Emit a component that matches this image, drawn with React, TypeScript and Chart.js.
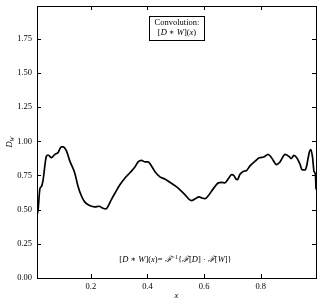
import React, { useEffect, useRef } from "react";
import { Chart, registerables } from "chart.js";

Chart.register(...registerables);

const xValues = [0.010,0.014,0.020,0.026,0.031,0.043,0.049,0.061,0.073,0.084,
  0.096,0.102,0.114,0.126,0.143,0.155,0.167,0.179,0.196,0.214,
  0.229,0.243,0.253,0.261,0.273,0.285,0.302,0.320,0.338,0.355,
  0.367,0.379,0.391,0.402,0.414,0.426,0.444,0.461,0.479,0.497,
  0.514,0.532,0.547,0.556,0.567,0.583,0.591,0.603,0.615,0.632,
  0.650,0.662,0.673,0.685,0.697,0.705,0.712,0.718,0.726,0.738,
  0.750,0.762,0.780,0.795,0.811,0.826,0.838,0.856,0.868,0.886,
  0.901,0.907,0.917,0.927,0.939,0.945,0.956,0.962,0.971,0.977,
  0.983,0.988,0.993,0.995];

const convValues = [0.46,0.50,0.65,0.67,0.71,0.89,0.90,0.88,0.905,0.917,
  0.96,0.96,0.93,0.855,0.77,0.67,0.60,0.555,0.53,0.52,
  0.525,0.51,0.505,0.525,0.575,0.62,0.68,0.73,0.77,0.81,
  0.85,0.86,0.85,0.85,0.82,0.78,0.74,0.725,0.70,0.676,
  0.647,0.61,0.575,0.566,0.578,0.593,0.586,0.58,0.603,0.652,
  0.696,0.70,0.696,0.725,0.757,0.75,0.725,0.72,0.757,0.78,
  0.787,0.82,0.855,0.88,0.885,0.905,0.88,0.83,0.85,0.905,
  0.887,0.873,0.897,0.88,0.83,0.794,0.79,0.82,0.917,0.94,
  0.88,0.78,0.757,0.647];

const xTicks = [0.2, 0.4, 0.6, 0.8];
const yTicks = [0, 0.25, 0.5, 0.75, 1.0, 1.25, 1.5, 1.75];
const xRange = [0.01, 0.995];
const yRange = [0, 1.99];

const FONT = "'Liberation Serif', 'DejaVu Serif', serif";
type Seg = { t: string; i?: boolean; sup?: boolean; sub?: boolean };

function drawSegs(ctx: CanvasRenderingContext2D, segs: Seg[], cx: number, cy: number, size: number) {
  const fontFor = (s: Seg) => `${s.i ? "italic " : ""}${s.sup || s.sub ? size * 0.7 : size}px ${FONT}`;
  let total = 0;
  for (const s of segs) { ctx.font = fontFor(s); total += ctx.measureText(s.t).width; }
  let x = cx - total / 2;
  ctx.textBaseline = "middle";
  ctx.textAlign = "left";
  for (const s of segs) {
    ctx.font = fontFor(s);
    const dy = s.sup ? -size * 0.35 : s.sub ? size * 0.3 : 0;
    ctx.fillText(s.t, x, cy + dy);
    x += ctx.measureText(s.t).width;
  }
  return total;
}

const decor = {
  id: "decor",
  afterDraw(chart: any) {
    const { ctx, chartArea: a, scales } = chart;
    ctx.save();
    ctx.strokeStyle = "#000";
    ctx.fillStyle = "#000";
    ctx.lineWidth = 1;
    ctx.strokeRect(Math.round(a.left) + 0.5, Math.round(a.top) + 0.5, Math.round(a.right - a.left), Math.round(a.bottom - a.top));
    const tl = 4;
    ctx.beginPath();
    for (const v of xTicks) {
      const px = Math.round(scales.x.getPixelForValue(v)) + 0.5;
      ctx.moveTo(px, a.bottom); ctx.lineTo(px, a.bottom - tl);
      ctx.moveTo(px, a.top); ctx.lineTo(px, a.top + tl);
    }
    for (const v of yTicks) {
      const py = Math.round(scales.y.getPixelForValue(v)) + 0.5;
      ctx.moveTo(a.left, py); ctx.lineTo(a.left + tl, py);
      ctx.moveTo(a.right, py); ctx.lineTo(a.right - tl, py);
    }
    ctx.stroke();

    // legend-like box
    const bx = 149.5, by = 16.5, bw = 55, bh = 24;
    ctx.fillStyle = "#fff";
    ctx.fillRect(bx, by, bw, bh);
    ctx.strokeRect(bx, by, bw, bh);
    ctx.fillStyle = "#000";
    const cx = bx + bw / 2;
    drawSegs(ctx, [{ t: "Convolution:" }], cx, 23, 8.5);
    drawSegs(ctx, [{ t: "[" }, { t: "D", i: true }, { t: " ∗ " }, { t: "W", i: true }, { t: "](" }, { t: "x", i: true }, { t: ")" }], cx, 33, 8.5);

    // formula
    drawSegs(ctx, [
      { t: "[" }, { t: "D", i: true }, { t: " ∗ " }, { t: "W", i: true }, { t: "](" }, { t: "x", i: true }, { t: ")= " },
      { t: "ℱ", i: true }, { t: "−1", sup: true }, { t: "{" }, { t: "ℱ", i: true }, { t: "[" }, { t: "D", i: true }, { t: "] · " },
      { t: "ℱ", i: true }, { t: "[" }, { t: "W", i: true }, { t: "]}" },
    ], 175.5, 260, 8.5);

    // x label
    drawSegs(ctx, [{ t: "x", i: true }], (a.left + a.right) / 2, 296, 8.5);

    // y label rotated
    ctx.save();
    ctx.translate(10, (a.top + a.bottom) / 2);
    ctx.rotate(-Math.PI / 2);
    drawSegs(ctx, [{ t: "D", i: true }, { t: "W", i: true, sub: true }], 0, 0, 8.5);
    ctx.restore();
    ctx.restore();
  },
};

export default function App() {
  const ref = useRef<HTMLCanvasElement>(null);
  useEffect(() => {
    if (!ref.current) return;
    const chart = new Chart(ref.current, {
      type: "line",
      data: {
        datasets: [{
          data: xValues.map((x, i) => ({ x, y: convValues[i] })),
          borderColor: "#000",
          borderWidth: 1.7,
          pointRadius: 0,
          cubicInterpolationMode: "monotone",
          fill: false,
        }],
      },
      options: {
        responsive: false,
        animation: false,
        devicePixelRatio: 1,
        layout: { padding: { left: 0, top: 6, right: 7, bottom: 0 } },
        plugins: { legend: { display: false }, tooltip: { enabled: false } },
        scales: {
          x: {
            type: "linear",
            min: xRange[0],
            max: xRange[1],
            grid: { display: false, drawTicks: false },
            border: { display: false },
            afterBuildTicks: (s: any) => { s.ticks = xTicks.map((v) => ({ value: v })); },
            afterFit: (s: any) => { s.height = 29; s.paddingLeft = 0; s.paddingRight = 0; },
            ticks: { padding: 4, color: "#000", font: { family: FONT, size: 8.5 }, maxRotation: 0, callback: (v: any) => String(Number(v).toFixed(1)) },
          },
          y: {
            min: yRange[0],
            max: yRange[1],
            grid: { display: false, drawTicks: false },
            border: { display: false },
            afterBuildTicks: (s: any) => { s.ticks = yTicks.map((v) => ({ value: v })); },
            afterFit: (s: any) => { s.width = 37; s.paddingTop = 0; s.paddingBottom = 0; },
            ticks: { padding: 5, color: "#000", font: { family: FONT, size: 8.5 }, callback: (v: any) => Number(v).toFixed(2) },
          },
        },
      },
      plugins: [decor],
    });
    return () => chart.destroy();
  }, []);
  return (
    <div style={{ position: "absolute", left: 0, top: 0, width: 323, height: 307, background: "#fff" }}>
      <canvas ref={ref} width={323} height={307} />
    </div>
  );
}
